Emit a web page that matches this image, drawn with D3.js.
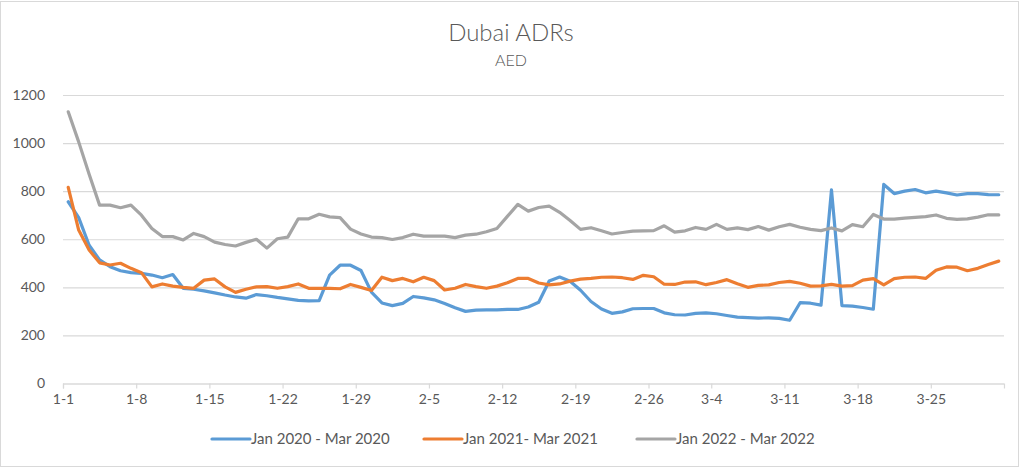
<!DOCTYPE html>
<html><head><meta charset="utf-8">
<script src="https://cdn.jsdelivr.net/npm/d3@7"></script>
<style>
body{margin:0;background:#fff}
text{font-family:Lato,"Liberation Sans",Arial,sans-serif}
</style>
</head><body>
<svg id="c" width="1024" height="470"></svg>
<script>
const categories = [
"1-1","1-2","1-3","1-4","1-5","1-6","1-7","1-8","1-9","1-10","1-11","1-12","1-13","1-14","1-15","1-16",
"1-17","1-18","1-19","1-20","1-21","1-22","1-23","1-24","1-25","1-26","1-27","1-28","1-29","1-30","1-31",
"2-1","2-2","2-3","2-4","2-5","2-6","2-7","2-8","2-9","2-10","2-11","2-12","2-13","2-14","2-15","2-16",
"2-17","2-18","2-19","2-20","2-21","2-22","2-23","2-24","2-25","2-26","2-27","2-28",
"3-1","3-2","3-3","3-4","3-5","3-6","3-7","3-8","3-9","3-10","3-11","3-12","3-13","3-14","3-15","3-16",
"3-17","3-18","3-19","3-20","3-21","3-22","3-23","3-24","3-25","3-26","3-27","3-28","3-29","3-30","3-31"];
const tickLabels = ["1-1","1-8","1-15","1-22","1-29","2-5","2-12","2-19","2-26","3-4","3-11","3-18","3-25"];
const yTicks = [0,200,400,600,800,1000,1200];
const seriesNames = ["Jan 2020 - Mar 2020","Jan 2021- Mar 2021","Jan 2022 - Mar 2022"];
const seriesColors = ["#5b9bd5","#ed7d31","#a5a5a5"];

const s2020 = [756,690,575,514,486,469,461,458,451,440,453,396,392,385,377,368,360,355,370,365,
358,352,346,344,345,451,492,492,470,380,335,324,333,362,356,348,333,315,300,305,
306,306,308,308,318,338,426,443,425,388,341,310,292,298,311,312,312,294,286,285,
292,294,290,283,276,274,272,273,271,263,336,334,326,805,324,322,316,309,828,790,
800,807,793,800,793,784,790,790,786,785];
const s2021 = [816,638,555,502,493,500,479,461,402,414,405,400,396,430,435,402,379,392,402,403,
396,403,414,396,396,396,394,412,400,387,442,428,437,423,442,428,389,396,412,403,
396,405,419,437,437,418,410,414,426,434,437,442,443,440,433,450,444,413,412,422,
423,411,420,432,415,400,408,410,420,425,417,405,406,412,405,407,430,436,410,436,
442,443,437,471,485,484,469,479,495,509];
const s2022 = [1130,1005,870,742,742,731,742,700,645,611,611,597,624,611,588,578,572,587,600,563,
602,609,685,685,704,693,690,642,622,609,607,599,607,621,613,613,613,607,617,621,
631,645,695,745,717,732,738,712,678,641,648,635,622,628,634,635,636,656,630,635,
649,641,662,641,647,640,653,638,652,662,650,641,636,647,635,661,652,703,684,684,
688,691,694,701,687,683,685,692,702,701];
const series = [s2020, s2021, s2022];

const svg = d3.select("#c");
const L = 63, R = 1004, T = 95, B = 383.5;
const x = d3.scaleLinear().domain([0, categories.length]).range([L, R]);
const y = d3.scaleLinear().domain([0, 1200]).range([B, T]);

// outer frame
svg.append("rect").attr("x",0.5).attr("y",1.5).attr("width",1018).attr("height",465)
  .attr("fill","#fff").attr("stroke","#d9d9d9").attr("stroke-width",1);

// title
svg.append("text").attr("x",511).attr("y",41).attr("text-anchor","middle")
  .attr("font-size",24).attr("font-weight",300).attr("fill","#595959").text("Dubai ADRs");
svg.append("text").attr("x",511).attr("y",66).attr("text-anchor","middle")
  .attr("font-size",16).attr("font-weight",300).attr("fill","#595959").text("AED");

// y axis + gridlines
const yAxis = d3.axisLeft(y).tickValues(yTicks).tickSize(-(R - L)).tickPadding(18).tickFormat(d3.format("d"));
const gy = svg.append("g").attr("transform",`translate(${L},0)`).call(yAxis);
gy.select(".domain").remove();
gy.selectAll("line").attr("stroke","#d9d9d9").attr("stroke-width",1.2);
gy.selectAll("text").attr("fill","#595959").attr("font-size",14).style("font-family","Lato, 'Liberation Sans', sans-serif");

// x axis
const tickIdx = tickLabels.map(t => categories.indexOf(t));
const xAxis = d3.axisBottom(x).tickValues(tickIdx).tickSize(5).tickPadding(6)
  .tickFormat(d => categories[d]);
const gx = svg.append("g").attr("transform",`translate(0,${B})`).call(xAxis);
gx.select(".domain").attr("stroke","#d9d9d9").attr("stroke-width",1.2);
gx.selectAll("line").attr("stroke","#d9d9d9").attr("stroke-width",1.2);
gx.selectAll("text").attr("fill","#595959").attr("font-size",14).style("font-family","Lato, 'Liberation Sans', sans-serif");

// lines
const line = d3.line().x((d,i) => x(i + 0.5)).y(d => y(d));
series.forEach((s, k) => {
  svg.append("path").datum(s).attr("d", line).attr("fill","none")
    .attr("stroke", seriesColors[k]).attr("stroke-width",3.2)
    .attr("stroke-linejoin","round").attr("stroke-linecap","round");
});

// legend
const legY = 439;
const legX = [212, 424, 637];
seriesNames.forEach((n, k) => {
  const g = svg.append("g").attr("transform",`translate(${legX[k]},${legY})`);
  g.append("line").attr("x1",0).attr("x2",38).attr("y1",0).attr("y2",0)
    .attr("stroke",seriesColors[k]).attr("stroke-width",3.2).attr("stroke-linecap","round");
  g.append("text").attr("x",39).attr("y",5).attr("font-size",15).attr("fill","#595959").text(n);
});
</script>
</body></html>
